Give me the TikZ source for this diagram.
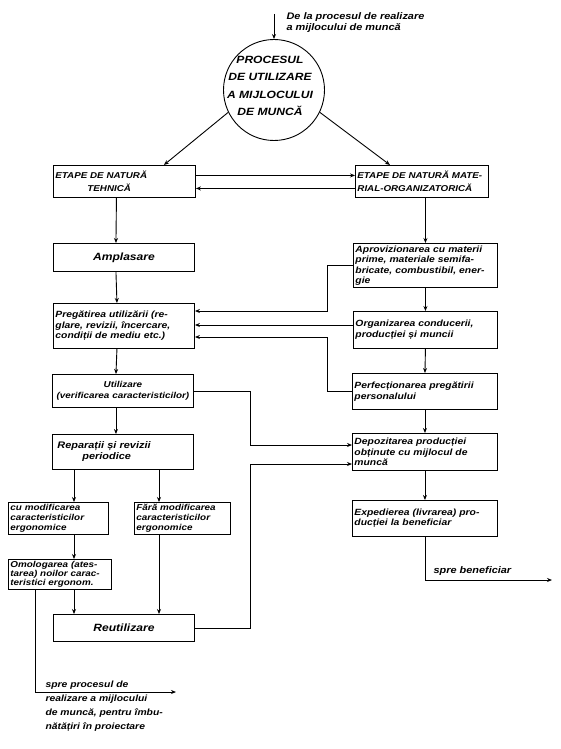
\documentclass[tikz,border=0pt]{standalone}
\usepackage{fontspec}
\setmainfont{Liberation Sans}[FakeStretch=1.15]
\usetikzlibrary{arrows.meta}
\begin{document}
\begin{tikzpicture}[x=1pt,y=-1pt,
  txt/.style={font=\fontsize{9}{10.5}\selectfont\bfseries\itshape},
  box/.style={draw, line width=0.9pt, anchor=north west, inner sep=2pt, align=left, txt},
  capbox/.style={box, font=\fontsize{8.5}{12.5}\selectfont\bfseries\itshape},
  bigbox/.style={box, align=center, font=\fontsize{10.5}{12}\selectfont\bfseries\itshape},
  conn/.style={line width=0.9pt, -{Stealth[length=5pt,width=4pt]}}]
\useasboundingbox (0,0) rectangle (561,749);

% circle
\node[circle, draw, line width=0.9pt, minimum size=101pt, inner sep=0pt] (proc) at (274,90) {};
\node[align=center, font=\fontsize{10.5}{17.5}\selectfont\bfseries\itshape] (proct) at (270,86)
  {PROCESUL\\DE UTILIZARE\\A MIJLOCULUI\\DE MUNCĂ};
\coordinate (topin) at (274,14);
\node[anchor=north west, align=left, font=\fontsize{9.5}{11.5}\selectfont\bfseries\itshape] (toplbl) at (283,9)
  {De la procesul de realizare\\ a mijlocului de muncă};

% top boxes
\node[capbox, text width=138pt, minimum height=32pt] (tech) at (53,165)
  {ETAPE DE NATURĂ\\\hspace*{32pt}TEHNICĂ};
\node[capbox, text width=129pt, minimum height=32pt] (mat) at (355,165)
  {ETAPE DE NATURĂ MATE-\\RIAL-ORGANIZATORICĂ};

% left column
\node[bigbox, text width=137pt, minimum height=28pt] (ampl) at (53,243) {Amplasare};
\node[box, text width=137pt, minimum height=45pt] (preg) at (53,303)
  {Pregătirea utilizării (re-\\glare, revizii, încercare,\\condiții de mediu etc.)};
\node[box, text width=137pt, minimum height=33pt, align=center, font=\fontsize{8.6}{10.5}\selectfont\bfseries\itshape] (util) at (52,374)
  {Utilizare\\(verificarea caracteristicilor)};
\node[box, text width=137pt, minimum height=35pt, font=\fontsize{9.5}{11}\selectfont\bfseries\itshape] (rep) at (52,434)
  {\hspace*{3pt}Reparații și revizii\\\hspace*{28pt}periodice};
\node[box, text width=96pt, minimum height=32pt, font=\fontsize{8.6}{10}\selectfont\bfseries\itshape] (cumod) at (8,502)
  {cu modificarea\\caracteristicilor\\ergonomice};
\node[box, text width=92pt, minimum height=32pt, font=\fontsize{8.6}{10}\selectfont\bfseries\itshape] (fara) at (134,502)
  {Fără modificarea\\caracteristicilor\\ergonomice};
\node[box, text width=99pt, minimum height=28pt, font=\fontsize{8.6}{9}\selectfont\bfseries\itshape] (omol) at (8,559)
  {Omologarea (ates-\\tarea) noilor carac-\\teristici ergonom.};
\node[bigbox, text width=137pt, minimum height=27pt] (reut) at (53,614) {Reutilizare};

% right column
\node[box, text width=140pt, minimum height=44pt] (aprov) at (353,243)
  {Aprovizionarea cu materii\\prime, materiale semifa-\\bricate, combustibil, ener-\\gie};
\node[box, text width=140pt, minimum height=37pt] (org) at (353,311)
  {Organizarea conducerii,\\producției și muncii};
\node[box, text width=141pt, minimum height=36pt] (perf) at (352,373)
  {Perfecționarea pregătirii\\personalului};
\node[box, text width=141pt, minimum height=37pt] (depoz) at (352,433)
  {Depozitarea producției\\obținute cu mijlocul de\\muncă};
\node[box, text width=141pt, minimum height=36pt] (exped) at (352,500)
  {Expedierea (livrarea) pro-\\ducției la beneficiar};

% outputs
\coordinate (benef) at (552,580);
\node[anchor=south west, font=\fontsize{9.5}{11}\selectfont\bfseries\itshape] (benlbl) at (430,579) {spre beneficiar};
\coordinate (proiect) at (176,692);
\node[anchor=north west, align=left, font=\fontsize{9}{14}\selectfont\bfseries\itshape] (prolbl) at (42,677)
  {spre procesul de\\realizare a mijlocului\\de muncă, pentru îmbu-\\nătățiri în proiectare};

% connectors
\draw[conn] (topin) -- (proc.north);
\draw[conn] (proc.206) -- ([xshift=-32pt]tech.north east);
\draw[conn] (proc.-26) -- ([xshift=35pt]mat.north west);
\draw[conn] ([yshift=6pt]tech.east) -- ([yshift=6pt]mat.west);
\draw[conn] ([yshift=-7pt]mat.west) -- ([yshift=-7pt]tech.east);

\draw[conn] ([xshift=-8pt]tech.south) -- ([xshift=-8pt]ampl.north);
\draw[conn] ([xshift=-8pt]ampl.south) -- ([xshift=-7pt]preg.north);
\draw[conn] ([xshift=-7pt]preg.south) -- ([xshift=-7pt]util.north);
\draw[conn] ([xshift=-7pt]util.south) -- ([xshift=-7pt]rep.north);
\draw[conn] (rep.south -| 74,0) -- (cumod.north -| 74,0);
\draw[conn] (rep.south -| 159,0) -- (fara.north -| 159,0);
\draw[conn] (cumod.south -| 74,0) -- (omol.north -| 74,0);
\draw[conn] (omol.south -| 74,0) -- (reut.north -| 74,0);
\draw[conn] (fara.south -| 159,0) -- (reut.north -| 159,0);
\draw[conn] (omol.south -| 35,0) |- (proiect);

\draw[conn] (mat.south -| aprov.north) -- (aprov.north);
\draw[conn] (aprov.south) -- (org.north);
\draw[conn] (org.south) -- (perf.north);
\draw[conn] (perf.south) -- (depoz.north);
\draw[conn] (depoz.south) -- (exped.north);
\draw[conn] (exped.south) |- (benef);

\draw[conn] (aprov.west) -| (327,311) -- (preg.east |- 0,311);
\draw[conn] (org.west |- 0,325) -- (preg.east |- 0,325);
\draw[conn] (perf.west) -| (327,337) -- (preg.east |- 0,337);

\draw[conn] (util.east) -| (250,445) -- (depoz.west |- 0,445);
\draw[conn] (reut.east) -| (250,464) -- (depoz.west |- 0,464);
\end{tikzpicture}
\end{document}
